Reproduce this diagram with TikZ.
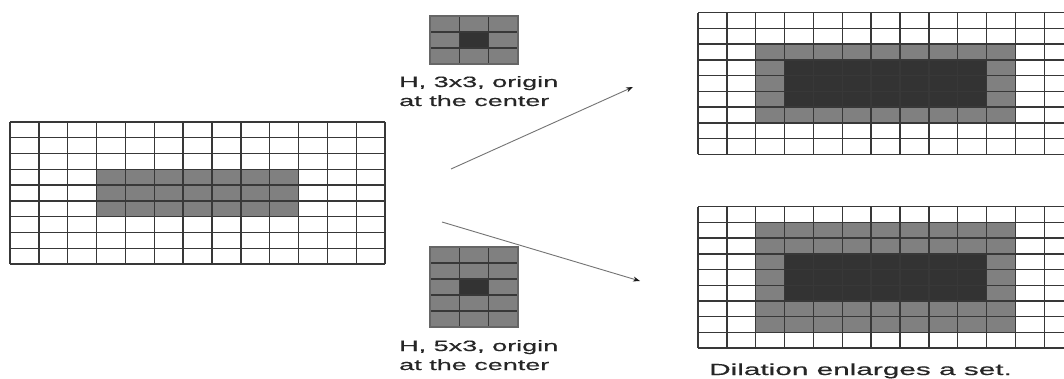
\documentclass[tikz,border=0pt]{standalone}
\usepackage{fontspec}
\setmainfont{Liberation Sans}
\newfontfamily\labelfont[FakeBold=0.35]{Liberation Sans}
\usepackage{graphicx}
\usetikzlibrary{arrows.meta}
\definecolor{gridline}{gray}{0.22}
\definecolor{lightfill}{gray}{0.5}
\definecolor{darkfill}{gray}{0.2}
\definecolor{setext}{gray}{0.15}
\begin{document}
\begin{tikzpicture}[x=1pt,y=-1pt,
  gridln/.style={draw=gridline,line width=1.4pt},
  seborder/.style={draw=gray!80!black,line width=1.2pt},
  conn/.style={draw=black!55,line width=0.9pt,-{Stealth[length=7pt,width=5pt,color=black!90]}},
  lbl/.style={inner sep=0pt,anchor=base west,text=setext,font=\labelfont\fontsize{15}{19}\selectfont},
  captext/.style={inner sep=0pt,anchor=base west,text=setext,font=\labelfont\fontsize{16}{19}\selectfont}]
\useasboundingbox[fill=white] (0,0) rectangle (1064,379);

% input set A (13 x 9)
\begin{scope}[shift={(10,122)},x=28.85pt,y=-15.78pt]
  \fill[lightfill] (3,3) rectangle (10,6);
  \foreach \i in {0,...,13} \draw[gridln] (\i,0) -- (\i,9);
  \foreach \j in {0,...,9} \draw[gridln] (0,\j) -- (13,\j);
\end{scope}

% structuring element 3x3
\begin{scope}[shift={(430,16)},x=29.33pt,y=-16pt]
  \fill[lightfill] (0,0) rectangle (3,3);
  \fill[darkfill] (1,1) rectangle (2,2);
  \foreach \i in {1,2} \draw[gridln] (\i,0) -- (\i,3);
  \foreach \j in {1,2} \draw[gridln] (0,\j) -- (3,\j);
  \draw[seborder] (0,0) rectangle (3,3);
\end{scope}

% structuring element 5x3
\begin{scope}[shift={(430,247)},x=29.33pt,y=-16pt]
  \fill[lightfill] (0,0) rectangle (3,5);
  \fill[darkfill] (1,2) rectangle (2,3);
  \foreach \i in {1,2} \draw[gridln] (\i,0) -- (\i,5);
  \foreach \j in {1,...,4} \draw[gridln] (0,\j) -- (3,\j);
  \draw[seborder] (0,0) rectangle (3,5);
\end{scope}

% dilation by 3x3
\begin{scope}[shift={(698,12.7)},x=28.85pt,y=-15.75pt]
  \fill[lightfill] (2,2) rectangle (11,7);
  \fill[darkfill] (3,3) rectangle (10,6);
  \foreach \i in {0,...,13} \draw[gridln] (\i,0) -- (\i,9);
  \foreach \j in {0,...,9} \draw[gridln] (0,\j) -- (13,\j);
\end{scope}

% dilation by 5x3
\begin{scope}[shift={(698,206.7)},x=28.85pt,y=-15.7pt]
  \fill[lightfill] (2,1) rectangle (11,8);
  \fill[darkfill] (3,3) rectangle (10,6);
  \foreach \i in {0,...,13} \draw[gridln] (\i,0) -- (\i,9);
  \foreach \j in {0,...,9} \draw[gridln] (0,\j) -- (13,\j);
\end{scope}

% labels
\node[lbl] (h1) at (399,87) {\scalebox{1.8}[1]{\begin{tabular}[t]{@{}l@{}}H, 3x3, origin\\at the center\end{tabular}}};
\node[lbl] (h2) at (399,351) {\scalebox{1.8}[1]{\begin{tabular}[t]{@{}l@{}}H, 5x3, origin\\at the center\end{tabular}}};
\node[captext] (dil) at (709,375) {\scalebox{1.86}[1]{Dilation enlarges a set.}};

% arrows
\coordinate (a1s) at (451,169);
\coordinate (a1e) at (633,87);
\coordinate (a2s) at (442,222);
\coordinate (a2e) at (640,281);
\draw[conn] (a1s) -- (a1e);
\draw[conn] (a2s) -- (a2e);
\end{tikzpicture}
\end{document}
